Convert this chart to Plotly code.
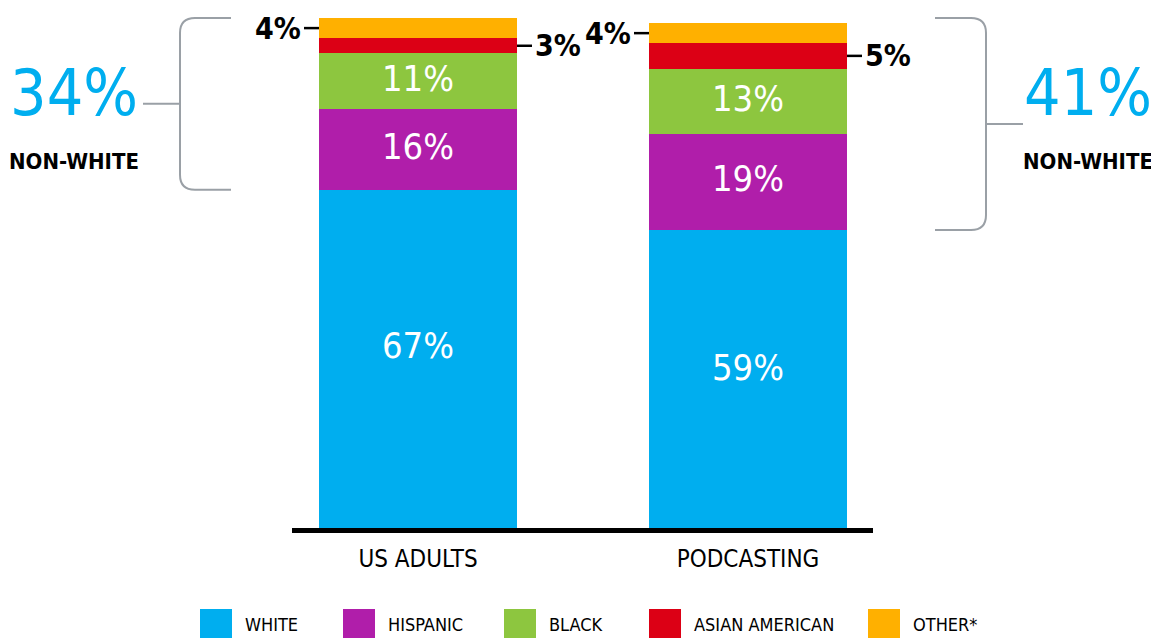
import plotly.graph_objects as go

# ---- data ----
groups = ["US ADULTS", "PODCASTING"]
categories = ["WHITE", "HISPANIC", "BLACK", "ASIAN AMERICAN", "OTHER*"]
us_adults = [67, 16, 11, 3, 4]
podcasting = [59, 19, 13, 5, 4]
colors = ["#00AEEF", "#B01EAA", "#8DC63F", "#DC0015", "#FFB000"]

series = [us_adults, podcasting]

# ---- layout geometry (reference pixels; page body adds an 8px margin) ----
BODY = 8
W, H = 1159 - BODY, 638 - BODY
PLOT_L, PLOT_R, PLOT_T, PLOT_B = 292, 873, 18, 528
PW, PH = PLOT_R - PLOT_L, PLOT_B - PLOT_T
ML, MT = PLOT_L - BODY, PLOT_T - BODY
MR, MB = W - ML - PW, H - MT - PH
YMAX = max(sum(s) for s in series)
XR = [-0.3818, 1.3788]
BARW = 0.6

FONT = "DejaVu Sans Condensed, Liberation Sans Narrow, sans-serif"
GRAY = "#9AA0A6"


def px_x(px):
    return (px - PLOT_L) / PW


def px_y(py):
    return (PLOT_B - py) / PH


fig = go.Figure()
for ci, cat in enumerate(categories):
    fig.add_trace(go.Bar(
        x=groups,
        y=[s[ci] for s in series],
        name=cat,
        marker=dict(color=colors[ci], line=dict(width=0)),
        width=BARW,
        showlegend=False,
        hoverinfo="skip",
    ))

annotations = []
shapes = []

# inside labels (first three categories) and outside labels (last two)
for gi, s in enumerate(series):
    base = 0
    for ci, v in enumerate(s):
        label = f"{v}%"
        if ci < 3:
            annotations.append(dict(
                x=gi, y=base + v * 0.54, xref="x", yref="y", text=label,
                showarrow=False, xanchor="center", yanchor="middle",
                font=dict(family=FONT, size=36, color="white"),
            ))
        else:
            mid = base + v / 2
            dash = 15 / 330
            if ci == len(s) - 1:   # left side
                x0, x1 = gi - BARW / 2, gi - BARW / 2 - dash
                anchor, shift = "right", -1
            else:                  # right side
                x0, x1 = gi + BARW / 2, gi + BARW / 2 + dash
                anchor, shift = "left", 1
            shapes.append(dict(type="line", xref="x", yref="y", x0=x0, x1=x1,
                               y0=mid, y1=mid, line=dict(color="black", width=2.5)))
            annotations.append(dict(
                x=x1, y=mid, xref="x", yref="y", text=f"<b>{label}</b>",
                showarrow=False, xanchor=anchor, yanchor="middle", xshift=shift,
                font=dict(family=FONT, size=30, color="black"),
            ))
        base += v

# brackets with non-white totals
rx, ry = 15 / PW, 15 / PH
bracket_specs = [
    # (series index, vertical x px, horizontal end px, tick end px, text center px, side)
    (0, 180, 231, 143, 74, "left"),
    (1, 986, 935, 1023, 1088, "right"),
]
for gi, vx, hx, tx, textx, side in bracket_specs:
    s = series[gi]
    y_top = 1.0
    y_bot = s[0] / YMAX
    xv, xh, xt = px_x(vx), px_x(hx), px_x(tx)
    sgn = 1 if side == "left" else -1
    path = (f"M {xh},{y_top} L {xv + sgn*rx},{y_top} Q {xv},{y_top} {xv},{y_top - ry} "
            f"L {xv},{y_bot + ry} Q {xv},{y_bot} {xv + sgn*rx},{y_bot} L {xh},{y_bot}")
    shapes.append(dict(type="path", xref="paper", yref="paper", path=path,
                       line=dict(color=GRAY, width=2)))
    ymid = (y_top + y_bot) / 2
    shapes.append(dict(type="line", xref="paper", yref="paper", x0=xt, x1=xv,
                       y0=ymid, y1=ymid, line=dict(color=GRAY, width=2)))
    nonwhite = sum(s[1:])
    annotations.append(dict(
        x=px_x(textx), y=px_y(93), xref="paper", yref="paper", text=f"{nonwhite}%",
        showarrow=False, xanchor="center", yanchor="middle",
        font=dict(family=FONT, size=64, color="#00AEEF"),
    ))
    annotations.append(dict(
        x=px_x(textx), y=px_y(161), xref="paper", yref="paper", text="<b>NON-WHITE</b>",
        showarrow=False, xanchor="center", yanchor="middle",
        font=dict(family=FONT, size=22, color="black"),
    ))

# legend drawn manually
legend_x = [200, 343, 504, 649, 868]
for ci, cat in enumerate(categories):
    lx = legend_x[ci]
    shapes.append(dict(type="rect", xref="paper", yref="paper",
                       x0=px_x(lx), x1=px_x(lx + 32), y0=px_y(609), y1=px_y(638),
                       fillcolor=colors[ci], line=dict(width=0)))
    annotations.append(dict(
        x=px_x(lx + 43), y=px_y(624.5), xref="paper", yref="paper", text=cat,
        showarrow=False, xanchor="left", yanchor="middle",
        font=dict(family=FONT, size=18, color="black"),
    ))

fig.update_layout(
    barmode="stack",
    width=W, height=H,
    margin=dict(l=ML, r=MR, t=MT, b=MB, pad=0),
    paper_bgcolor="white", plot_bgcolor="white",
    xaxis=dict(range=XR, showgrid=False, zeroline=False, showline=True,
               linewidth=5, linecolor="black", ticks="outside", ticklen=5,
               tickcolor="rgba(0,0,0,0)",
               tickfont=dict(family=FONT, size=24, color="black")),
    yaxis=dict(range=[0, YMAX], visible=False, showgrid=False, zeroline=False),
    annotations=annotations,
    shapes=shapes,
    bargap=0,
)

fig.write_html("out.html", config={"displayModeBar": False})
